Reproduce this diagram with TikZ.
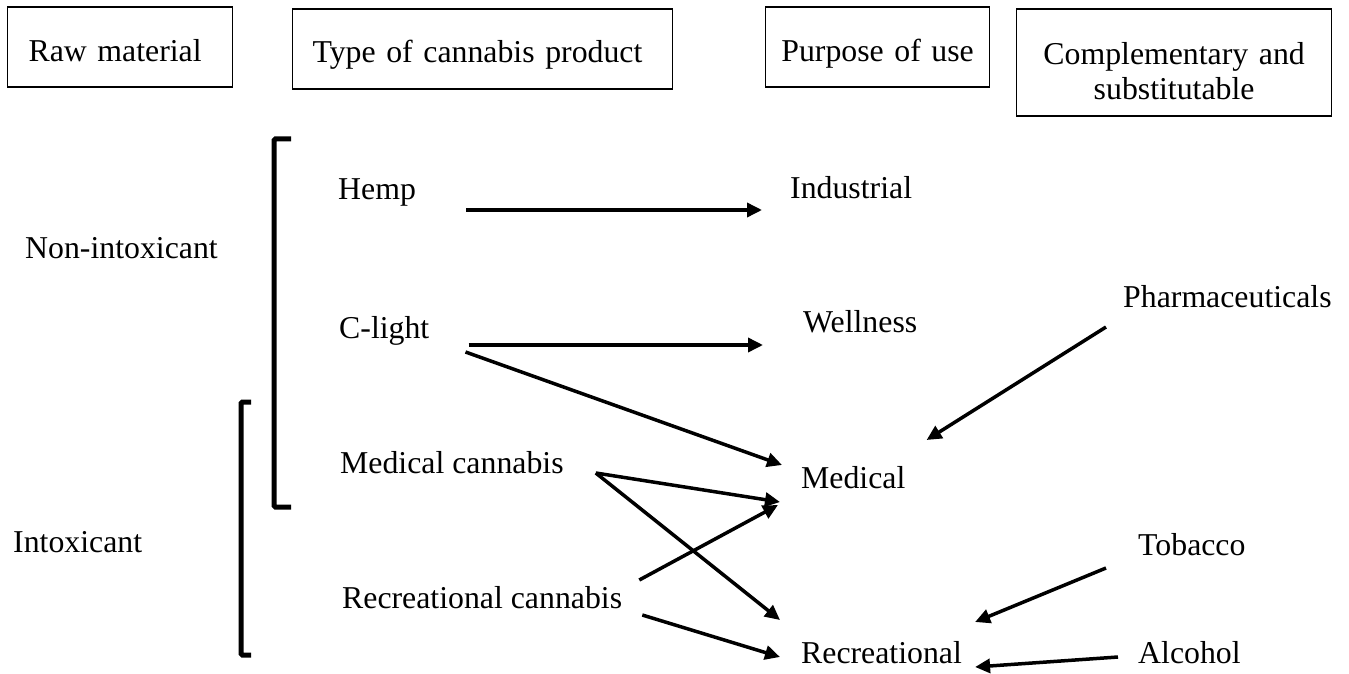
\documentclass[tikz,border=0pt]{standalone}
\usepackage{fontspec}
\setmainfont{Liberation Serif}
\usetikzlibrary{arrows.meta,calc}
\begin{document}
\begin{tikzpicture}[x=1pt,y=1pt,
  every node/.style={font=\fontsize{31.8}{35}\selectfont},
  lbl/.style={anchor=base west,inner sep=0pt},
  hdr/.style={draw,line width=1.2pt,inner ysep=0pt,anchor=base west},
  arr/.style={line width=3.5pt,-{Triangle[length=15pt,width=14pt]}},
  brk/.style={line width=5pt,rounded corners=1.5pt}]
\useasboundingbox (0,0) rectangle (1349,-674);
% header boxes
\node[hdr,text width=183pt,inner xsep=21pt,align=left,text height=55pt,text depth=25pt] (raw) at (7,-62) {Raw material};
\node[hdr,text width=340pt,inner xsep=20pt,align=left,text height=54pt,text depth=26pt] (type) at (292,-63) {Type of cannabis product};
\node[hdr,text width=224pt,inner xsep=0pt,align=center,text height=55pt,text depth=25pt] (purpose) at (765,-62) {Purpose of use};
\node[hdr,text width=315pt,inner xsep=0pt,align=center,text height=56pt,text depth=51pt] (comp) at (1016,-65) {Complementary and\\substitutable};
% labels
\node[lbl] (nonint) at (25,-258) {Non-intoxicant};
\node[lbl] (intox) at (13,-552) {Intoxicant};
\node[lbl] (hemp) at (338,-199) {Hemp};
\node[lbl] (clight) at (339,-338) {C-light};
\node[lbl] (medcan) at (340,-473) {Medical cannabis};
\node[lbl] (reccan) at (342,-608) {Recreational cannabis};
\node[lbl] (industrial) at (790,-198) {Industrial};
\node[lbl] (wellness) at (803,-332) {Wellness};
\node[lbl] (medical) at (801,-488) {Medical};
\node[lbl] (recreational) at (801,-663) {Recreational};
\node[lbl] (pharma) at (1123,-307) {Pharmaceuticals};
\node[lbl] (tobacco) at (1138,-555) {Tobacco};
\node[lbl] (alcohol) at (1138,-663) {Alcohol};
% brackets
\draw[brk] (291,-139) -- (274,-139) -- (274,-507) -- (291,-507);
\draw[brk] (251,-402) -- (241,-402) -- (241,-655) -- (251,-655);
% arrows
\draw[arr] ($(hemp.base east)+(50,-11)$) -- ($(industrial.base west)+(-28,-12)$);
\draw[arr] ($(clight.base east)+(39,-7)$) -- ($(wellness.base west)+(-40,-13)$);
\draw[arr] ($(clight.base east)+(36,-14)$) -- ($(medical.base west)+(-19,23)$);
\draw[arr] ($(medcan.base east)+(32,0)$) -- ($(medical.base west)+(-21,-14)$);
\draw[arr] ($(medcan.base east)+(32,0)$) -- ($(recreational.base west)+(-21,43)$);
\draw[arr] ($(reccan.base east)+(17,28)$) -- ($(medical.base west)+(-23,-17)$);
\draw[arr] ($(reccan.base east)+(20,-7)$) -- ($(recreational.base west)+(-21,6)$);
\draw[arr] ($(pharma.base west)+(-17,-20)$) -- ($(medical.base east)+(21,48)$);
\draw[arr] ($(tobacco.base west)+(-32,-13)$) -- ($(recreational.base east)+(13,41)$);
\draw[arr] ($(alcohol.base west)+(-20,6)$) -- ($(recreational.base east)+(13,-4)$);
\end{tikzpicture}
\end{document}
